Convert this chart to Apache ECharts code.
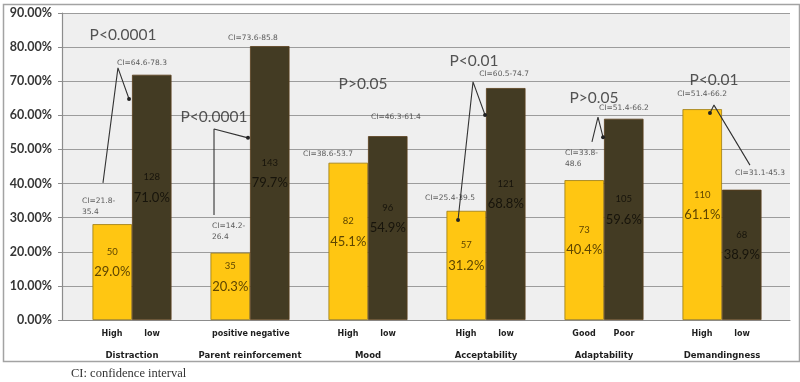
<!DOCTYPE html>
<html>
<head>
<meta charset="utf-8">
<script src="https://cdn.jsdelivr.net/npm/echarts@6/dist/echarts.min.js"></script>
<style>
html, body { margin: 0; padding: 0; background: #fff; }
#chart { width: 800px; height: 382px; }
</style>
</head>
<body>
<div id="chart"></div>
<script>
// groups and the two bars of each group
const groups = ['Distraction', 'Parent reinforcement', 'Mood', 'Acceptability', 'Adaptability', 'Demandingness']
const firstNames = ['High', 'positive', 'High', 'High', 'Good', 'High']
const secondNames = ['low', 'negative', 'low', 'low', 'Poor', 'low']

// bar heights (%)
const firstValues = [28.1, 19.7, 46.1, 32.0, 41.0, 61.8]
const secondValues = [71.9, 80.3, 53.9, 68.0, 59.0, 38.2]

// text printed inside the bars
const firstCounts = ['50', '35', '82', '57', '73', '110']
const secondCounts = ['128', '143', '96', '121', '105', '68']
const firstPct = ['29.0%', '20.3%', '45.1%', '31.2%', '40.4%', '61.1%']
const secondPct = ['71.0%', '79.7%', '54.9%', '68.8%', '59.6%', '38.9%']

const yTicks = [0, 10, 20, 30, 40, 50, 60, 70, 80, 90]

// annotations, in data units (x = group index, y = percent)
const pNotes = [
  ['P<0.0001', -0.076, 83.6],
  ['P<0.0001', 0.695, 59.5],
  ['P>0.05', 1.958, 69.2],
  ['P<0.01', 2.898, 75.9],
  ['P>0.05', 3.915, 65.1],
  ['P<0.01', 4.932, 70.4]
]
const ciNotes = [
  ['CI=21.8-\n35.4', -0.424, 33.4, 'left'],
  ['CI=64.6-78.3', 0.085, 75.3, 'center'],
  ['CI=14.2-\n26.4', 0.678, 25.8, 'left'],
  ['CI=73.6-85.8', 1.025, 82.7, 'center'],
  ['CI=38.6-53.7', 1.661, 48.7, 'center'],
  ['CI=46.3-61.4', 2.237, 59.5, 'center'],
  ['CI=25.4-39.5', 2.695, 35.8, 'center'],
  ['CI=60.5-74.7', 3.153, 72.1, 'center'],
  ['CI=33.8-\n48.6', 3.669, 47.2, 'left'],
  ['CI=51.4-66.2', 4.169, 62.2, 'center'],
  ['CI=51.4-66.2', 4.831, 66.3, 'center'],
  ['CI=31.1-45.3', 5.322, 43.1, 'center']
]
// connector polylines, plus which points get a little dot
const connectors = [
  { pts: [[-0.246, 40.2], [-0.119, 73.9], [-0.025, 64.8]], dots: [2] },
  { pts: [[0.695, 30.8], [0.695, 56.0], [0.983, 53.4]], dots: [2] },
  { pts: [[2.763, 29.3], [2.890, 69.8], [2.992, 60.1]], dots: [0, 2] },
  { pts: [[3.898, 52.2], [3.949, 59.5], [3.992, 53.6]], dots: [2] },
  { pts: [[4.898, 60.7], [4.932, 63.0], [5.237, 45.4]], dots: [0] }
]

const YELLOW = '#ffc612'
const DARK = '#433b23'

const mychart = echarts.init(document.getElementById('chart'))

const barLabel = (counts, pcts, color) => ({
  show: true,
  position: 'inside',
  formatter: p => '{n|' + counts[p.dataIndex] + '}\n{p|' + pcts[p.dataIndex] + '}\n{e|}',
  rich: {
    n: { fontSize: 9.5, lineHeight: 24, color: color, fontFamily: 'Lato' },
    p: { fontSize: 13, lineHeight: 16, color: color, fontFamily: 'Lato' },
    e: { fontSize: 9.5, lineHeight: 24 }
  }
})

const series = [
  {
    name: 'first', type: 'bar', xAxisIndex: 1, yAxisIndex: 1,
    data: firstValues, barWidth: 39.5, barGap: '0%',
    itemStyle: { color: YELLOW, borderColor: '#9a7a10', borderWidth: 0.8 },
    label: barLabel(firstCounts, firstPct, '#5e4500')
  },
  {
    name: 'second', type: 'bar', xAxisIndex: 1, yAxisIndex: 1,
    data: secondValues, barWidth: 39.5, barGap: '0%',
    itemStyle: { color: DARK, borderColor: '#5a3f1c', borderWidth: 0.8 },
    label: barLabel(secondCounts, secondPct, '#17140b')
  },
  {
    type: 'scatter', xAxisIndex: 2, yAxisIndex: 1, symbolSize: 0, z: 10,
    data: pNotes.map(n => ({ value: [n[1], n[2]], name: n[0] })),
    label: {
      show: true, position: 'inside', formatter: p => p.name,
      fontSize: 15.5, color: '#2b2b2b', fontFamily: 'Lato'
    }
  },
  {
    type: 'scatter', xAxisIndex: 2, yAxisIndex: 1, symbolSize: 0, z: 10,
    data: ciNotes.map(n => ({
      value: [n[1], n[2]], name: n[0],
      label: { align: n[3] }
    })),
    label: {
      show: true, position: 'inside', formatter: p => p.name,
      fontSize: 7.5, lineHeight: 11, color: '#333', fontFamily: 'DejaVu Sans'
    }
  }
]

connectors.forEach(c => {
  series.push({
    type: 'line', xAxisIndex: 2, yAxisIndex: 1, z: 9,
    data: c.pts.map((pt, i) => ({ value: pt, symbolSize: c.dots.indexOf(i) >= 0 ? 4 : 0 })),
    symbol: 'circle', showSymbol: true,
    lineStyle: { color: '#333', width: 1.1 },
    itemStyle: { color: '#222' },
    silent: true
  })
})

const option = {
  animation: false,
  backgroundColor: '#fff',
  grid: [
    { left: 62, right: 10, top: 13, bottom: 62, show: true, backgroundColor: '#efefef', borderWidth: 0 },
    { left: 73, right: 19, top: 13, bottom: 62 }
  ],
  xAxis: [
    {
      gridIndex: 0, type: 'value', min: 0, max: 1,
      axisLine: { show: true, lineStyle: { color: '#8c8c8c', width: 1.2 } },
      axisTick: { show: false }, axisLabel: { show: false }, splitLine: { show: false }
    },
    {
      gridIndex: 1, type: 'category', data: groups,
      axisLine: { show: false }, axisTick: { show: false },
      axisLabel: {
        interval: 0, margin: 3,
        formatter: (val, idx) => '{s|' + firstNames[idx] + '}{s|' + secondNames[idx] + '}\n{g|' + val + '}',
        rich: {
          s: { width: 40, align: 'center', fontSize: 8, fontWeight: 'bold', color: '#1e1e1e', fontFamily: 'DejaVu Sans', lineHeight: 22 },
          g: { fontSize: 8.5, fontWeight: 'bold', color: '#1e1e1e', fontFamily: 'DejaVu Sans', lineHeight: 22 }
        }
      }
    },
    {
      gridIndex: 1, type: 'value', min: -0.5, max: 5.5, show: false
    }
  ],
  yAxis: [
    {
      gridIndex: 0, type: 'value', min: yTicks[0], max: yTicks[yTicks.length - 1], interval: 10,
      axisLine: { show: true, lineStyle: { color: '#8c8c8c', width: 1.2 } },
      axisTick: { show: true, length: 4, lineStyle: { color: '#8c8c8c' } },
      axisLabel: {
        margin: 10, fontSize: 12.5, color: '#363636', fontFamily: 'Lato', fontWeight: 'bold',
        formatter: v => v.toFixed(2) + '%'
      },
      splitLine: { lineStyle: { color: '#9c9c9c', width: 1.2 } }
    },
    {
      gridIndex: 1, type: 'value', min: 0, max: 90, show: false
    }
  ],
  graphic: [
    {
      type: 'rect', left: 1, top: 2, z: 100,
      shape: { width: 796, height: 357 },
      style: { fill: 'none', stroke: '#a3a3a3', lineWidth: 1.5 }
    },
    {
      type: 'text', left: 71, top: 367,
      style: { text: 'CI: confidence interval', font: '12.5px "Liberation Serif"', fill: '#333' }
    }
  ],
  series: series
}
mychart.setOption(option, true)
</script>
</body>
</html>
